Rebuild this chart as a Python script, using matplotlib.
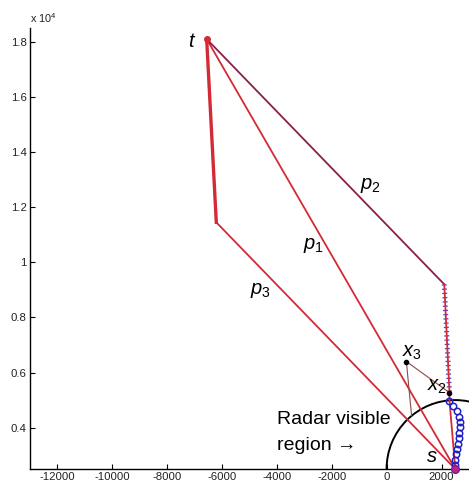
import numpy as np
import matplotlib
matplotlib.use('Agg')
import matplotlib.pyplot as plt
from matplotlib.patches import Circle

plt.rcParams['font.family'] = ['Liberation Sans', 'DejaVu Sans']
plt.rcParams['mathtext.fontset'] = 'custom'
plt.rcParams['mathtext.rm'] = 'Liberation Sans'
plt.rcParams['mathtext.it'] = 'Liberation Sans:italic'
plt.rcParams['axes.unicode_minus'] = False

# --- points (data units) --- #
t_pt = (-6550, 18100)
s_pt = (2500, 2500)
x2_pt = (2290, 5270)
x3_pt = (720, 6400)
x3_hit = (910, 4430)          # where the thin line from x3 meets the radar circle
radar_radius = 2500

p1_x = [-6550, 2500]
p1_y = [18100, 2500]
p2_x = [-6550, 2100, 2290, 2290, 2500]
p2_y = [18100, 9200, 5270, 4980, 2500]
p3_x = [-6550, -6200, 2500]
p3_y = [18100, 11450, 2500]

# observed track inside the radar region
track_x = [2290, 2410, 2555, 2630, 2655, 2655, 2630, 2630, 2605, 2555, 2535, 2500, 2475, 2500]
track_y = [4980, 4800, 4620, 4400, 4195, 4010, 3795, 3610, 3405, 3225, 3045, 2825, 2655, 2500]

x_ticks = [-12000, -10000, -8000, -6000, -4000, -2000, 0, 2000]
y_ticks = [4000, 6000, 8000, 10000, 12000, 14000, 16000, 18000]

RED = '#d42a35'
DARK = '#8a1f4a'
THIN = '#8c4a4a'

fig = plt.figure(figsize=(4.69, 4.84), dpi=100)
ax = fig.add_axes([29.5 / 469, 15 / 484, 439.5 / 469, 441 / 484])
ax.set_xlim(-13000, 3000)
ax.set_ylim(2500, 18500)

# radar visible region
ax.add_patch(Circle(s_pt, radar_radius, fill=False, ec='black', lw=1.4, zorder=2))

# paths
ax.plot(p3_x[:2], p3_y[:2], color=RED, lw=2.4, zorder=3)
ax.plot(p3_x[1:], p3_y[1:], color=RED, lw=1.3, zorder=3)
ax.plot(p1_x, p1_y, color=RED, lw=1.3, zorder=3)
ax.plot(p2_x[:2], p2_y[:2], color=DARK, lw=1.3, zorder=3)
# blue tick texture under the straight run of p2
ax.plot(p2_x[1:3], p2_y[1:3], color='#4a4ad8', lw=3.6, dashes=(0.25, 0.6),
        solid_capstyle='butt', dash_capstyle='butt', zorder=3)
ax.plot(p2_x[1:], p2_y[1:], color=RED, lw=1.3, zorder=4)

# thin links around x3
ax.plot([x3_pt[0], x2_pt[0]], [x3_pt[1], x2_pt[1]], color=THIN, lw=0.8, zorder=3)
ax.plot([x3_pt[0], x3_hit[0]], [x3_pt[1], x3_hit[1]], color=THIN, lw=0.8, zorder=3)

# track inside radar region
ax.plot(track_x, track_y, 'o', mfc='none', mec='#2020c8', ms=4.6, mew=1.1, zorder=5)

# markers
ax.plot(*t_pt, 'o', color=RED, ms=4, zorder=6)
ax.plot(*s_pt, 'o', mfc='#c8207a', mec='#6a20a0', ms=5.5, zorder=6, clip_on=False)
ax.plot(*x2_pt, 'o', color='black', ms=3, zorder=6)
ax.plot(*x3_pt, 'o', color='black', ms=3, zorder=6)

# labels
fs = 14.5
ax.text(-7090, 18000, r'$t$', fontsize=fs, ha='center', va='center')
ax.text(-980, 12800, r'$p_\mathit{2}$', fontsize=fs, ha='left', va='center')
ax.text(-3055, 10620, r'$p_\mathit{1}$', fontsize=fs, ha='left', va='center')
ax.text(-4980, 8980, r'$p_\mathit{3}$', fontsize=fs, ha='left', va='center')
ax.text(545, 6730, r'$x_\mathit{3}$', fontsize=fs, ha='left', va='center')
ax.text(1455, 5490, r'$x_\mathit{2}$', fontsize=fs, ha='left', va='center')
ax.text(1640, 2950, r'$s$', fontsize=fs, ha='center', va='center')
ax.text(-4000, 4140, 'Radar visible', fontsize=14, ha='left', va='baseline')
ax.text(-4000, 3190, 'region \u2192', fontsize=14, ha='left', va='baseline')

# axes styling
for side in ['top', 'right']:
    ax.spines[side].set_visible(False)
for side in ['left', 'bottom']:
    ax.spines[side].set_linewidth(1.0)
ax.set_xticks(x_ticks)
ax.set_xticklabels([str(v) for v in x_ticks])
ax.set_yticks(y_ticks)
ax.set_yticklabels(['%g' % (v / 1e4) for v in y_ticks])
ax.tick_params(direction='in', length=3.5, width=0.8, labelsize=8.2,
               labelcolor='#222222', pad=2)
fig.text(30 / 469, 1 - 23 / 484, r'x 10$^{4}$', fontsize=7.8, color='#222222',
         ha='left', va='baseline')

fig.savefig('out.png', dpi=100)
